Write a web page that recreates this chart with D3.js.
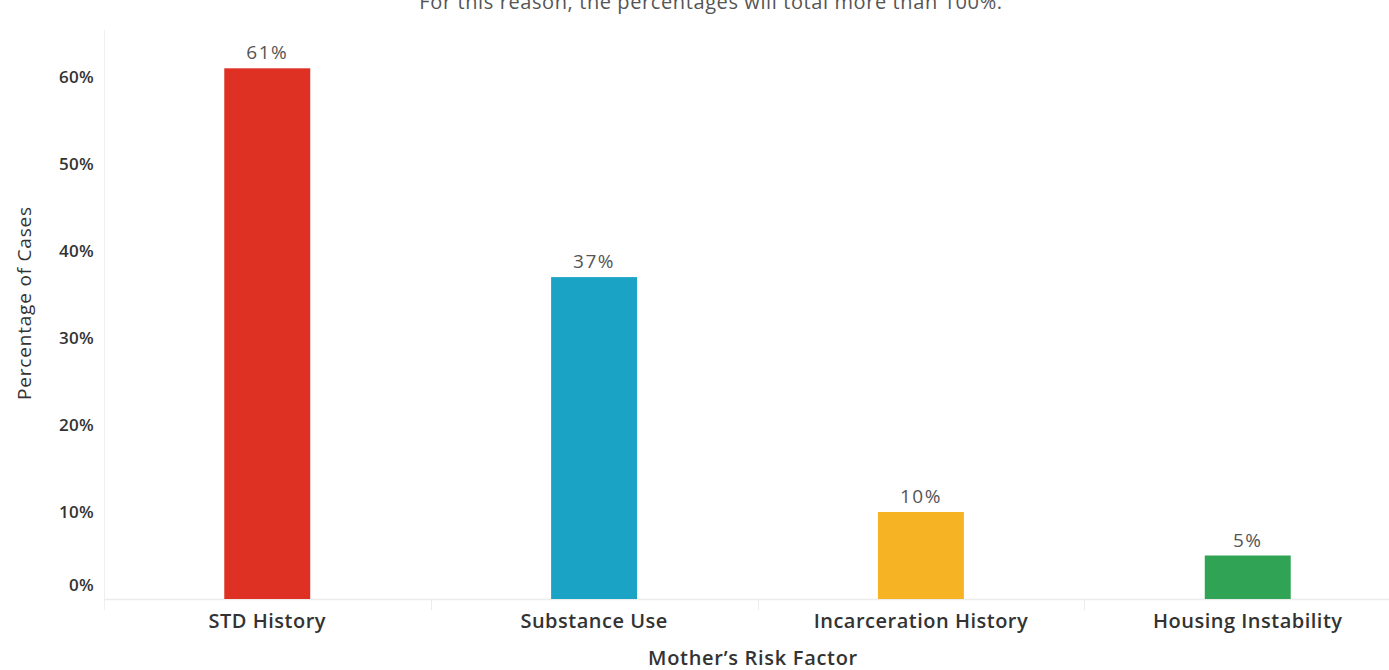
<!DOCTYPE html>
<html>
<head>
<meta charset="utf-8">
<script src="https://cdn.jsdelivr.net/npm/d3@7"></script>
<style>
  html, body { margin: 0; padding: 0; background: #fff; }
  svg { display: block; font-family: "Open Sans", "Noto Sans", sans-serif; }
</style>
</head>
<body>
<svg id="chart" width="1389" height="670"></svg>
<script>
const categories = ["STD History", "Substance Use", "Incarceration History", "Housing Instability"];
const values = [61, 37, 10, 5];
const valueLabels = ["61%", "37%", "10%", "5%"];
const colors = ["#DE3124", "#1BA3C6", "#F6B324", "#31A354"];
const yTicks = [0, 10, 20, 30, 40, 50, 60];
const yTickLabels = ["0%", "10%", "20%", "30%", "40%", "50%", "60%"];
const noteText = "For this reason, the percentages will total more than 100%.";
const xTitle = "Mother\u2019s Risk Factor";
const yTitle = "Percentage of Cases";

const svg = d3.select("#chart");
const paneLeft = 104, paneRight = 1411, baseY = 599, topY = 77;

const x = d3.scaleBand().domain(categories).range([paneLeft, paneRight]).paddingInner(0.737).paddingOuter(0.368);
const y = d3.scaleLinear().domain([0, 60]).range([baseY, topY]);

// note text (cut off at top, as in the reference)
svg.append("text").attr("x", 711).attr("y", 9).attr("text-anchor", "middle")
  .attr("font-size", 20).attr("letter-spacing", 0.6).attr("fill", "#555").text(noteText);

// pane left border
svg.append("line").attr("x1", paneLeft + 0.5).attr("x2", paneLeft + 0.5).attr("y1", 30).attr("y2", 610)
  .attr("stroke", "#efefef").attr("stroke-width", 1);
// baseline
svg.append("line").attr("x1", paneLeft).attr("x2", 1389).attr("y1", baseY + 0.5).attr("y2", baseY + 0.5)
  .attr("stroke", "#ececec").attr("stroke-width", 1.5);
// header dividers
const step = x.step();
categories.forEach((c, i) => {
  if (i === 0) return;
  const xd = x(c) - (step - x.bandwidth()) / 2;
  svg.append("line").attr("x1", Math.round(xd) + 0.5).attr("x2", Math.round(xd) + 0.5)
    .attr("y1", baseY).attr("y2", 610).attr("stroke", "#ececec");
});

// y axis
const yAxis = d3.axisLeft(y).tickValues(yTicks).tickFormat((d, i) => yTickLabels[i]).tickSize(0).tickPadding(10);
const yg = svg.append("g").attr("transform", `translate(${paneLeft},0)`).call(yAxis);
yg.select(".domain").remove();
yg.selectAll("text").attr("font-size", 17).attr("font-weight", 600).attr("fill", "#333")
  .attr("letter-spacing", 0.3)
  .attr("font-family", "'Open Sans', sans-serif").attr("dy", "0.32em")
  .attr("transform", d => d === 0 ? "translate(0,-14)" : null);

// bars
svg.selectAll("rect.bar").data(categories).join("rect").attr("class", "bar")
  .attr("x", d => x(d)).attr("width", x.bandwidth())
  .attr("y", (d, i) => y(values[i])).attr("height", (d, i) => baseY - y(values[i]))
  .attr("fill", (d, i) => colors[i]);

// value labels
svg.selectAll("text.val").data(categories).join("text").attr("class", "val")
  .attr("x", d => x(d) + x.bandwidth() / 2).attr("y", (d, i) => y(values[i]) - 9)
  .attr("text-anchor", "middle").attr("font-size", 19).attr("letter-spacing", 1.5).attr("fill", "#555")
  .text((d, i) => valueLabels[i]);

// x axis labels
const xAxis = d3.axisBottom(x).tickSize(0).tickPadding(15);
const xg = svg.append("g").attr("transform", `translate(0,${baseY})`).call(xAxis);
xg.select(".domain").remove();
xg.selectAll("text").attr("font-size", 20).attr("font-weight", 600).attr("fill", "#333")
  .attr("letter-spacing", 0.5)
  .attr("font-family", "'Open Sans', sans-serif");

// axis titles
svg.append("text").attr("x", 753).attr("y", 665).attr("text-anchor", "middle")
  .attr("font-size", 20).attr("letter-spacing", 0.7).attr("font-weight", 600).attr("fill", "#333").text(xTitle);
svg.append("text").attr("transform", "translate(31,303) rotate(-90)").attr("text-anchor", "middle")
  .attr("font-size", 19).attr("letter-spacing", 0.8).attr("fill", "#333").text(yTitle);
</script>
</body>
</html>
